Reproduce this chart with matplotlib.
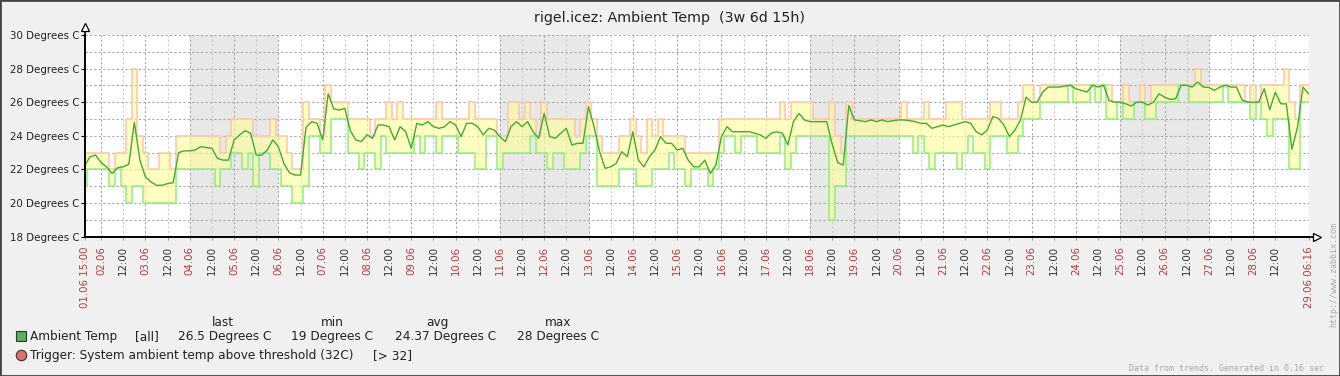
import numpy as np
import matplotlib.pyplot as plt
from matplotlib.patches import Rectangle
from matplotlib.lines import Line2D

# trend samples every 3 hours, starting 01.06 15:00
start_hour = 15
step_hours = 3
end_hour = 28 * 24 + 6 + 16 / 60   # 29.06 06:16

avg_temp = [
    22.2, 22.75, 22.85, 22.4, 22.15, 21.75, 22.1, 22.15, 22.3, 24.8,
    22.55, 21.55, 21.25, 21.05, 21.05, 21.15, 21.2, 23.0, 23.1, 23.1,
    23.15, 23.35, 23.3, 23.25, 22.65, 22.55, 22.55, 23.75, 24.05, 24.3,
    24.15, 22.85, 22.85, 23.15, 23.75, 23.35, 22.35, 21.8, 21.66, 21.66,
    24.5, 24.84, 24.74, 23.75, 26.5, 25.6, 25.53, 25.63, 24.3, 23.75,
    23.65, 24.05, 23.85, 24.64, 24.64, 24.54, 23.75, 24.54, 24.24, 23.25,
    24.74, 24.64, 24.84, 24.54, 24.44, 24.54, 24.84, 24.64, 23.95, 24.74,
    24.74, 24.54, 24.05, 24.44, 24.34, 23.95, 23.65, 24.54, 24.84, 24.54,
    24.84, 24.24, 23.85, 25.33, 23.95, 23.85, 24.15, 24.44, 23.45, 23.55,
    23.55, 25.73, 24.54, 23.05, 22.06, 22.15, 22.35, 23.05, 22.75, 24.24,
    22.55, 22.15, 22.75, 23.15, 23.95, 23.55, 23.55, 23.15, 23.25, 22.55,
    22.15, 22.15, 22.55, 21.76, 22.25, 23.95, 24.54, 24.24, 24.24, 24.24,
    24.24, 24.15, 24.05, 23.85, 24.15, 24.24, 24.15, 23.45, 24.84, 25.33,
    24.94, 24.84, 24.84, 24.84, 24.84, 23.5, 22.4, 22.25, 25.8, 24.94,
    24.9, 24.84, 24.94, 24.84, 24.94, 24.84, 24.9, 24.94, 24.94, 24.9,
    24.84, 24.74, 24.74, 24.44, 24.54, 24.64, 24.54, 24.64, 24.74, 24.84,
    24.74, 24.24, 24.05, 24.34, 25.14, 25.04, 24.64, 23.95, 24.34, 24.94,
    26.3, 26.0, 26.0, 26.6, 26.9, 26.9, 26.9, 26.96, 27.0, 26.8,
    26.7, 26.6, 27.0, 26.9, 27.0, 26.1, 26.0, 26.0, 25.9, 25.77,
    26.0, 26.0, 25.83, 26.0, 26.5, 26.3, 26.17, 26.2, 27.0, 27.0,
    26.9, 27.2, 26.9, 26.88, 26.7, 26.9, 27.0, 26.9, 26.9, 26.13,
    26.0, 26.0, 26.0, 26.8, 25.55, 26.6, 25.9, 25.9, 23.2, 24.5,
    26.9, 26.5,
]

max_temp = [
    23, 23, 23, 23, 23, 22, 23, 23, 25, 28,
    24, 23, 22, 22, 23, 23, 22, 24, 24, 24,
    24, 24, 24, 24, 24, 23, 24, 25, 25, 25,
    25, 24, 24, 24, 25, 24, 24, 23, 22, 22,
    26, 25, 25, 24, 27, 26, 26, 26, 25, 25,
    25, 25, 24, 25, 25, 26, 25, 26, 25, 25,
    25, 25, 25, 25, 26, 25, 25, 25, 25, 25,
    26, 25, 25, 25, 25, 24, 24, 26, 26, 25,
    26, 25, 24, 26, 25, 25, 25, 25, 25, 24,
    25, 26, 25, 24, 23, 23, 23, 24, 24, 25,
    24, 23, 25, 24, 25, 24, 24, 24, 24, 23,
    23, 23, 23, 23, 23, 25, 25, 25, 25, 25,
    25, 25, 25, 25, 25, 25, 26, 25, 26, 26,
    26, 26, 25, 25, 25, 26, 24, 23, 26, 25,
    25, 25, 25, 25, 25, 25, 25, 25, 26, 25,
    25, 25, 26, 25, 25, 25, 26, 26, 26, 25,
    25, 25, 25, 25, 26, 26, 25, 25, 25, 26,
    27, 27, 26, 27, 27, 27, 27, 27, 27, 27,
    27, 27, 27, 27, 27, 27, 26, 26, 27, 26,
    26, 27, 26, 27, 27, 27, 27, 27, 27, 27,
    27, 28, 27, 27, 27, 27, 27, 27, 27, 27,
    26, 27, 26, 27, 27, 27, 27, 28, 26, 25,
    27, 27,
]

min_temp = [
    21, 22, 22, 22, 22, 21, 22, 21, 20, 21,
    21, 20, 20, 20, 20, 20, 20, 22, 22, 22,
    22, 22, 22, 22, 21, 22, 22, 23, 23, 22,
    23, 21, 23, 23, 22, 22, 21, 21, 20, 20,
    21, 24, 24, 23, 23, 25, 25, 25, 23, 23,
    22, 23, 23, 22, 24, 23, 23, 23, 23, 23,
    24, 23, 24, 24, 23, 24, 24, 24, 23, 23,
    23, 22, 22, 24, 24, 22, 23, 23, 23, 23,
    23, 24, 23, 23, 22, 23, 23, 22, 22, 22,
    23, 24, 24, 21, 21, 21, 21, 22, 22, 22,
    21, 21, 21, 22, 22, 22, 23, 22, 22, 21,
    22, 22, 22, 21, 22, 23, 24, 24, 23, 24,
    24, 24, 23, 23, 23, 23, 24, 22, 23, 24,
    24, 24, 24, 24, 24, 19, 21, 21, 24, 24,
    24, 24, 24, 24, 24, 24, 24, 24, 24, 24,
    23, 24, 23, 22, 23, 23, 23, 23, 22, 23,
    24, 23, 23, 22, 24, 24, 24, 23, 23, 24,
    25, 25, 25, 26, 26, 26, 26, 26, 27, 26,
    26, 26, 27, 26, 27, 25, 25, 26, 25, 25,
    26, 26, 25, 25, 26, 26, 26, 26, 27, 27,
    26, 26, 26, 26, 26, 26, 27, 26, 26, 26,
    26, 25, 26, 25, 24, 25, 25, 25, 22, 22,
    26, 26,
]

weekend_days = [4, 11, 18, 25]   # Saturday of each weekend (June)
y_labels = [18, 20, 22, 24, 26, 28, 30]

legend_head = ["last", "min", "avg", "max"]
legend_vals = ["26.5 Degrees C", "19 Degrees C", "24.37 Degrees C", "28 Degrees C"]

W, H = 1340, 376


def fx(px):
    return px / W


def fy(py):
    return 1 - py / H


fig = plt.figure(figsize=(W / 100, H / 100), dpi=100, facecolor='#f0f0f0')
ax = fig.add_axes([fx(84.5), fy(236.5), fx(1309) - fx(84.5), fy(35) - fy(236.5)])
ax.set_facecolor('white')

hours = start_hour + step_hours * np.arange(len(avg_temp))

# weekends
for d in weekend_days:
    ax.axvspan((d - 1) * 24, (d + 1) * 24, color='#e8e8e8', lw=0, zorder=0)

# grid
dash = (0, (2, 2))
for t in range(19, 31):
    ax.axhline(t, color='#a8a8a8', lw=0.8, ls=dash, zorder=1)
tick_pos = [start_hour]
tick_lab = ["01.06 15:00"]
tick_col = ['#b83c3c']
for h in range(24, 661, 12):
    tick_pos.append(h)
    if h % 24 == 0:
        tick_lab.append("%02d.06" % (h // 24 + 1))
        tick_col.append('#b83c3c')
        ax.axvline(h, color='#a8a8a8', lw=0.8, ls=dash, zorder=1)
    else:
        tick_lab.append("12:00")
        tick_col.append('#333333')
        ax.axvline(h, color='#cccccc', lw=0.8, ls=dash, zorder=1)
tick_pos.append(end_hour)
tick_lab.append("29.06 06:16")
tick_col.append('#b83c3c')
ax.axvline(end_hour, color='#cccccc', lw=0.8, ls=dash, zorder=1)

# data
ax.fill_between(hours, min_temp, max_temp, step='mid', color='#ffff99',
                alpha=0.6, lw=0, zorder=2)
ax.step(hours, max_temp, where='mid', color='#ffc4aa', lw=1.1, zorder=3)
ax.step(hours, min_temp, where='mid', color='#8ef07c', lw=1.1, zorder=3)
ax.plot(hours, avg_temp, color='#44aa33', lw=1.0, zorder=4)

ax.set_xlim(start_hour, end_hour)
ax.set_ylim(18, 30)

ax.set_yticks(y_labels)
ax.set_yticklabels(["%d Degrees C" % v for v in y_labels], fontsize=7.4, color='#222222')
ax.tick_params(axis='y', length=3, width=0.8, pad=0.5, color='black')

ax.set_xticks(tick_pos)
ax.set_xticklabels(tick_lab, rotation=90, fontsize=7.4)
for lab, c in zip(ax.get_xticklabels(), tick_col):
    lab.set_color(c)
ax.tick_params(axis='x', length=2, width=0.6, pad=5, color='#888888')

for s in ['top', 'right']:
    ax.spines[s].set_visible(False)
for s in ['left', 'bottom']:
    ax.spines[s].set_color('black')
    ax.spines[s].set_linewidth(1.2)

# axis arrows
fig.add_artist(Line2D([fx(84.5), fx(84.5)], [fy(236.5), fy(28)], color='black', lw=1.2))
fig.add_artist(Line2D([fx(84.5), fx(1317)], [fy(236.5), fy(236.5)], color='black', lw=1.2))
fig.add_artist(Line2D([fx(84.5)], [fy(27)], marker='^', ms=6, mfc='white', mec='black', mew=0.9))
fig.add_artist(Line2D([fx(1317)], [fy(236.5)], marker='>', ms=6, mfc='white', mec='black', mew=0.9))

# title
fig.text(fx(670), fy(22), "rigel.icez: Ambient Temp  (3w 6d 15h)", ha='center', va='baseline',
         fontsize=10.3, color='#222222')

# legend
head_x = [223, 332, 437, 558]
for x, t in zip(head_x, legend_head):
    fig.text(fx(x), fy(326), t, ha='center', va='baseline', fontsize=8.7, color='#222222')

fig.add_artist(Rectangle((fx(16), fy(341)), fx(10), fy(331) - fy(341), facecolor='#55b255',
                         edgecolor='#333333', lw=0.8))
fig.text(fx(30), fy(340), "Ambient Temp", ha='left', va='baseline', fontsize=8.7, color='#222222')
fig.text(fx(135), fy(340), "[all]", ha='left', va='baseline', fontsize=8.7, color='#222222')
for x, t in zip([178, 291, 395, 517], legend_vals):
    fig.text(fx(x), fy(340), t, ha='left', va='baseline', fontsize=8.7, color='#222222')

fig.add_artist(Line2D([fx(21)], [fy(355)], marker='o', ms=7.5, mfc='#e07070', mec='#333333', mew=0.8))
fig.text(fx(30), fy(359), "Trigger: System ambient temp above threshold (32C)", ha='left',
         va='baseline', fontsize=8.7, color='#222222')
fig.text(fx(373), fy(359), "[> 32]", ha='left', va='baseline', fontsize=8.7, color='#222222')

fig.text(fx(1324), fy(368.5), "Data from trends. Generated in 0.16 sec", ha='right', va='center',
         fontsize=6, family='DejaVu Sans Mono', color='#aaaaaa')
fig.text(fx(1334), fy(327), "http://www.zabbix.com", ha='center', va='bottom', rotation=90,
         fontsize=6, family='DejaVu Sans Mono', color='#aaaaaa')

# border
fig.add_artist(Rectangle((0, 0), 1, 1, transform=fig.transFigure, fill=False,
                         edgecolor='#444444', lw=2))

fig.savefig("out.png", dpi=100, facecolor=fig.get_facecolor())
